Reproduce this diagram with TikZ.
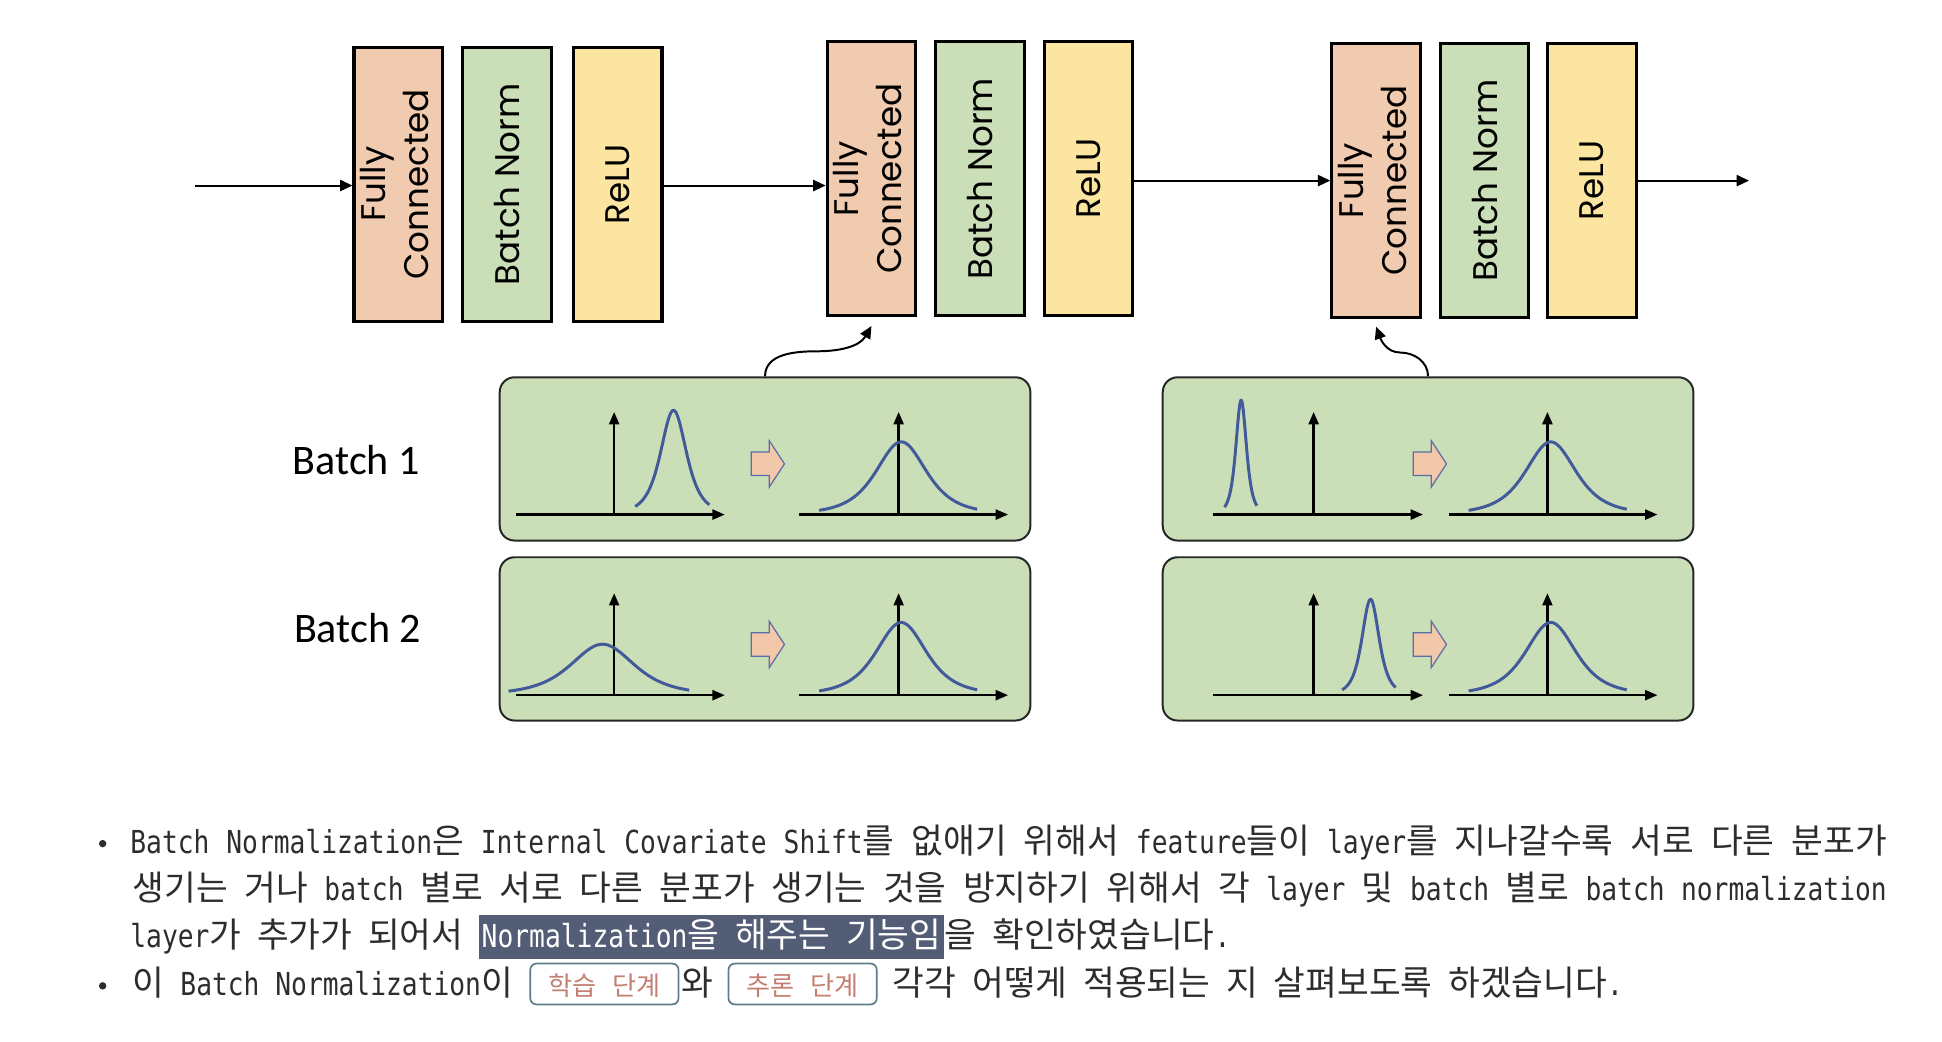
\documentclass[tikz,border=0pt]{standalone}
\usepackage{fontspec}
\usetikzlibrary{positioning,arrows.meta}
\newfontfamily\blockfont{Poppins}
\newfontfamily\batchfont{Carlito}
\newfontfamily\monofont[FakeStretch=0.83]{DejaVu Sans Mono}
\newfontfamily\kofont[Scale=1.09]{Noto Sans CJK KR}
\newcommand\ko[1]{{\kofont#1}}
\newcommand\bodyfont{\monofont\fontsize{12.8}{15}\selectfont\spaceskip=6.4pt plus 4pt minus 2pt\relax}
\newcommand\tagfont{\kofont\fontsize{9.7}{12}\selectfont\spaceskip=6.6pt\relax}
\definecolor{fccol}{HTML}{F1CBB0}
\definecolor{bncol}{HTML}{CADFB8}
\definecolor{recol}{HTML}{FBE5A1}
\definecolor{curvecol}{HTML}{42599A}
\definecolor{fatcol}{HTML}{F3C8AA}
\definecolor{fatedge}{HTML}{5A6EA8}
\definecolor{txtcol}{HTML}{2D2D2D}
\definecolor{hicol}{HTML}{535D76}
\definecolor{tagedge}{HTML}{5F7C8A}
\definecolor{tagtxt}{HTML}{C47F72}
\tikzset{
  block/.style={draw=black, line width=1.25pt, minimum width=35.8pt, minimum height=110.8pt,
    inner sep=0pt, font=\blockfont\fontsize{13.8}{17.5}\selectfont},
  fcblock/.style={block, fill=fccol},
  bnblock/.style={block, fill=bncol},
  reblock/.style={block, fill=recol},
  flow/.style={line width=0.8pt, -{Triangle[length=5pt,width=4.5pt]}},
  link/.style={line width=0.8pt, -{Triangle[length=5pt,width=4.5pt]}},
  panel/.style={draw=black!85, line width=0.8pt, fill=bncol, rounded corners=6pt,
    minimum width=214.5pt, minimum height=66pt, inner sep=0pt},
  axis/.style={line width=1pt, -{Triangle[length=5pt,width=4pt]}},
  curve/.style={draw=curvecol, line width=1.2pt},
  fat/.style={draw=fatedge, line width=0.5pt, fill=fatcol},
  batchlbl/.style={font=\batchfont\fontsize{17}{20}\selectfont},
  txt/.style={inner sep=0pt, text=txtcol, font=\bodyfont},
  hilite/.style={txt, fill=hicol, text=white, inner xsep=1pt, text height=13pt, text depth=4.5pt},
  tag/.style={txt, draw=tagedge, line width=0.7pt, rounded corners=2.5pt, text=tagtxt,
    inner xsep=7.2pt, inner ysep=0pt, text height=13pt, text depth=3.5pt, font=\tagfont},
  dot/.style={circle, fill=txtcol, inner sep=0pt, minimum size=3pt}
}
\begin{document}
\begin{tikzpicture}[x=0.5pt, y=-0.5pt]
\useasboundingbox (0,0) rectangle (1570,842);

% layer stack
\node[fcblock] (fc1) at (322,149) {\rotatebox{90}{\begin{tabular}{@{}c@{}}Fully\\Connected\end{tabular}}};
\node[bnblock, right=6.8pt of fc1] (bn1) {\rotatebox{90}{Batch Norm}};
\node[reblock, right=7.8pt of bn1] (re1) {\rotatebox{90}{ReLU}};
\node[fcblock] (fc2) at (704.5,144.5) {\rotatebox{90}{\begin{tabular}{@{}c@{}}Fully\\Connected\end{tabular}}};
\node[bnblock, right=6.8pt of fc2] (bn2) {\rotatebox{90}{Batch Norm}};
\node[reblock, right=6.8pt of bn2] (re2) {\rotatebox{90}{ReLU}};
\node[fcblock] (fc3) at (1112.5,146) {\rotatebox{90}{\begin{tabular}{@{}c@{}}Fully\\Connected\end{tabular}}};
\node[bnblock, right=6.8pt of fc3] (bn3) {\rotatebox{90}{Batch Norm}};
\node[reblock, right=6.3pt of bn3] (re3) {\rotatebox{90}{ReLU}};

\coordinate (in) at (158,150);
\coordinate (out) at (1414,146);
\draw[flow] (in) -- (in -| fc1.west);
\draw[flow] (re1.east |- 0,150) -- (fc2.west |- 0,150);
\draw[flow] (re2.east |- 0,146) -- (fc3.west |- 0,146);
\draw[flow] (re3.east) -- (out);

% batch panels
\node[panel] (p11) at (618.5,371) {};
\node[panel] (p12) at (618.5,516.5) {};
\node[panel] (p21) at (1154.5,371) {};
\node[panel] (p22) at (1154.5,516.5) {};
\node[batchlbl] (lb1) at (288,372) {Batch 1};
\node[batchlbl] (lb2) at (289,508) {Batch 2};

\coordinate (bend1) at (660,284);
\coordinate (tip1) at ([yshift=-3.5pt]fc2.south);
\draw[link] (p11.north) to[out=90,in=180] (bend1) to[out=0,in=240] (tip1);
\coordinate (bend2) at (1132,285);
\coordinate (tip2) at ([yshift=-3pt]fc3.south);
\draw[link] (p21.north) to[out=90,in=0] (bend2) to[out=180,in=-70] (tip2);

% axes
\foreach \ax/\ay/\at in {496.5/416/333, 726.5/416/333, 496.5/562/479.5, 726.5/562/479.5,
    1062/416/333, 1251/416/333, 1062/562/479.5, 1251/562/479.5} {
  \draw[axis] (\ax,\ay) -- (\ax,\at);
}
\foreach \ay in {416,562} {
  \draw[axis] (417,\ay) -- (586,\ay);
  \draw[axis] (646,\ay) -- (815,\ay);
  \draw[axis] (981,\ay) -- (1150.5,\ay);
  \draw[axis] (1171.5,\ay) -- (1340,\ay);
}

% distributions before
\draw[curve] plot[domain=-31:29, samples=70] ({544.5+\x}, {416-84.3/((1+(\x/19.3)*(\x/19.3))*(1+(\x/19.3)*(\x/19.3)))});
\draw[curve] plot[domain=-76:70, samples=70] ({487.1+\x}, {562-41.2/((1+(\x/47.5)*(\x/47.5))*(1+(\x/47.5)*(\x/47.5)))});
\draw[curve] plot[domain=-13.5:12.7, samples=70] ({1003.4+\x}, {416-92.4/((1+(\x/7.9)*(\x/7.9))*(1+(\x/7.9)*(\x/7.9)))});
\draw[curve] plot[domain=-23:20.3, samples=70] ({1108+\x}, {562-77.5/((1+(\x/12.8)*(\x/12.8))*(1+(\x/12.8)*(\x/12.8)))});

% distributions after
\foreach \bx/\by in {728.6/416, 728.6/562, 1253.7/416, 1253.7/562} {
  \draw[curve] plot[domain=-66.4:61.4, samples=70] ({\bx+\x}, {\by-58.8/((1+(\x/37.5)*(\x/37.5))*(1+(\x/37.5)*(\x/37.5)))});
}

% fat arrows
\foreach \fx/\fy in {621.8/375, 621.8/521, 1157/375, 1157/521} {
  \draw[fat] (\fx,\fy) ++(-14.4,-9.5) -- ++(14.4,0) -- ++(0,-9.4) -- ++(12.4,18.9)
    -- ++(-12.4,18.9) -- ++(0,-9.4) -- ++(-14.4,0) -- cycle;
}

% text
\node[dot] (d1) at (83,682) {};
\node[dot] (d2) at (83,797) {};
\node[txt, anchor=base west] (l1) at (105,690) {\makebox[710pt][s]{Batch Normalization\ko{은} Internal Covariate Shift\ko{를} \ko{없애기} \ko{위해서} feature\ko{들이} layer\ko{를} \ko{지나갈수록} \ko{서로} \ko{다른} \ko{분포가}}};
\node[txt, anchor=base west] (l2) at (107,728) {\makebox[709pt][s]{\ko{생기는} \ko{거나} batch \ko{별로} \ko{서로} \ko{다른} \ko{분포가} \ko{생기는} \ko{것을} \ko{방지하기} \ko{위해서} \ko{각} layer \ko{및} batch \ko{별로} batch normalization}};
\node[txt, anchor=base west] (l3a) at (105,766) {layer\ko{가} \ko{추가가} \ko{되어서}};
\node[hilite, base right=6pt of l3a] (hl) {Normalization\ko{을} \ko{해주는} \ko{기능임}};
\node[txt, base right=0pt of hl] (l3b) {\ko{을} \ko{확인하였습니다}.};
\node[txt, anchor=base west] (l4a) at (107,805) {\ko{이} Batch Normalization\ko{이}};
\node[tag, base right=6.5pt of l4a] (tg1) {학습 단계};
\node[txt, base right=0.5pt of tg1] (l4b) {\ko{와}};
\node[tag, base right=5.8pt of l4b] (tg2) {추론 단계};
\node[txt, base right=6pt of tg2] (l4c) {\ko{각각} \ko{어떻게} \ko{적용되는} \ko{지} \ko{살펴보도록} \ko{하겠습니다}.};
\end{tikzpicture}
\end{document}
